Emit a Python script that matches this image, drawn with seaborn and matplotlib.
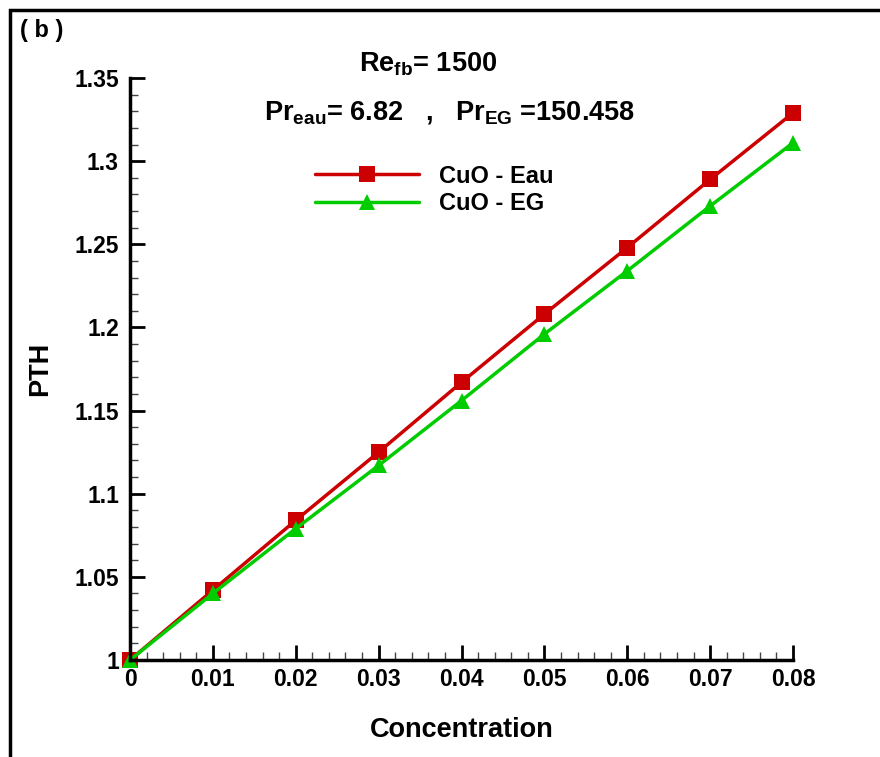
import numpy as np
import pandas as pd
import seaborn as sns
import matplotlib.pyplot as plt
from matplotlib.patches import Rectangle
from matplotlib.ticker import MultipleLocator, FormatStrFormatter

# values
concentration = [0, 0.01, 0.02, 0.03, 0.04, 0.05, 0.06, 0.07, 0.08]
pth_cuo_eau = [1.0, 1.042, 1.084, 1.125, 1.167, 1.208, 1.248, 1.289, 1.329]
pth_cuo_eg = [1.0, 1.040, 1.079, 1.117, 1.156, 1.196, 1.234, 1.273, 1.311]
series_names = ["CuO - Eau", "CuO - EG"]

df = pd.concat([
    pd.DataFrame({"Concentration": concentration, "PTH": pth_cuo_eau, "fluid": series_names[0]}),
    pd.DataFrame({"Concentration": concentration, "PTH": pth_cuo_eg, "fluid": series_names[1]}),
])

sns.set_style("ticks")
plt.rcParams['font.family'] = ['Liberation Sans', 'DejaVu Sans']
plt.rcParams['font.weight'] = 'bold'
plt.rcParams['mathtext.default'] = 'regular'
plt.rcParams['text.color'] = 'black'
plt.rcParams['axes.labelcolor'] = 'black'
plt.rcParams['xtick.color'] = 'black'
plt.rcParams['ytick.color'] = 'black'
plt.rcParams['xtick.direction'] = 'in'
plt.rcParams['ytick.direction'] = 'in'

fig = plt.figure(figsize=(8.8, 7.57), dpi=100)
ax = fig.add_axes([130 / 880, 1 - 660 / 757, 663 / 880, 582 / 757])

sns.lineplot(data=df, x="Concentration", y="PTH", hue="fluid", style="fluid",
             palette={series_names[0]: "#cc0000", series_names[1]: "#00cc00"},
             markers={series_names[0]: "s", series_names[1]: "^"}, dashes=False,
             linewidth=2.5, markersize=12, markeredgewidth=0, ax=ax, clip_on=False)

ax.set_xlim(0, 0.08)
ax.set_ylim(1, 1.35)
ax.xaxis.set_major_locator(MultipleLocator(0.01))
ax.xaxis.set_minor_locator(MultipleLocator(0.002))
ax.yaxis.set_major_locator(MultipleLocator(0.05))
ax.yaxis.set_minor_locator(MultipleLocator(0.01))
ax.xaxis.set_major_formatter(FormatStrFormatter('%g'))
ax.yaxis.set_major_formatter(FormatStrFormatter('%g'))
ax.tick_params(which='major', direction='in', length=11, width=2, labelsize=16.5, colors='black')
ax.tick_params(axis='y', which='major', pad=8)
ax.tick_params(axis='x', which='major', pad=6)
ax.tick_params(which='minor', direction='in', length=6, width=1, color='#444444')
for lab in ax.get_xticklabels() + ax.get_yticklabels():
    lab.set_fontweight('bold')

sns.despine(ax=ax)
for s in ['left', 'bottom']:
    ax.spines[s].set_linewidth(2.5)
    ax.spines[s].set_color('black')

ax.set_xlabel("Concentration", fontsize=19.5, fontweight='bold')
ax.set_ylabel("PTH", fontsize=19.5, fontweight='bold')
ax.xaxis.set_label_coords(0.5, -(730 - 660) / 582, transform=ax.transAxes)
ax.yaxis.set_label_coords(-(130 - 40) / 663, 0.5, transform=ax.transAxes)
ax.xaxis.label.set_va('center')
ax.yaxis.label.set_va('center')

leg = ax.legend(loc='center left', bbox_to_anchor=(315 / 880, 1 - 190 / 757),
                bbox_transform=fig.transFigure, frameon=False, fontsize=17,
                handlelength=4.4, handletextpad=0.85, labelspacing=0.2,
                borderpad=0, borderaxespad=0)
for t in leg.get_texts():
    t.set_fontweight('bold')

fig.text(428 / 880, 1 - 64 / 757, r"Re$_{fb}$= 1500", ha='center', va='center',
         fontsize=19.5, fontweight='bold')
fig.text(450 / 880, 1 - 112 / 757, r"Pr$_{eau}$= 6.82   ,   Pr$_{EG}$ =150.458",
         ha='center', va='center', fontsize=19.5, fontweight='bold')
fig.text(20 / 880, 1 - 30 / 757, "( b )", ha='left', va='center', fontsize=17, fontweight='bold')

# outer frame, cut off at the right and bottom edges
fig.patches.append(Rectangle((10 / 880, -0.1), 1.2, 1.1 - 10 / 757, transform=fig.transFigure,
                             fill=False, edgecolor='black', linewidth=2.5))

fig.savefig("out.png", dpi=100)
